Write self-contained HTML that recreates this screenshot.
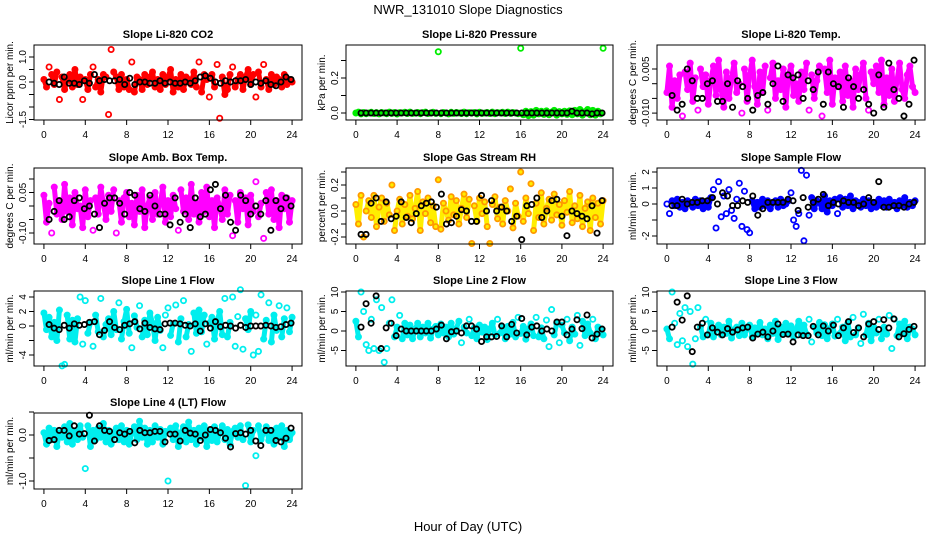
<!DOCTYPE html>
<html><head><meta charset="utf-8"><style>
body{margin:0;background:#fff;}
svg{display:block;font-family:"Liberation Sans",sans-serif;}
</style></head><body>
<svg id="chart" width="936" height="540" viewBox="0 0 936 540">
<text x="468" y="14" text-anchor="middle" font-size="13">NWR_131010  Slope Diagnostics</text>
<text x="468" y="531" text-anchor="middle" font-size="13">Hour of Day (UTC)</text>
</svg>
<script>
const hourTicks=[0,4,8,12,16,20,24];
const co2Vals=[.1,-.2,.6,.3,-.1,.4,-.7,.2,-.3,.1,.3,-.2,.5,-.1,.2,-.7,.1,-.3,.3,.6,-.2,.1,-.4,.3,.2,-1.3,1.3,.4,.2,-.3,.3,-.2,.1,-.3,.8,-.4,.2,.1,-.3,.3,-.1,.2,.4,-.2,.1,-.3,.3,-.1,.2,.5,-.4,.1,-.2,.3,-.3,.2,.1,-.1,.4,-.2,.8,-.4,.3,.1,-.6,.3,-.2,.7,-1.45,.2,-.5,-.3,.3,.6,-.2,.1,.3,-.3,.2,.5,-.1,.3,-.6,.4,-.2,.7,.1,-.3,.3,-.1,.2,.1,-.2,.3,-.1,.1,0];
const co2Black=[0,-.05,-.1,.2,-.05,-.05,-.1,.05,-.05,.3,.05,.1,.05,.05,.1,-.1,.15,-.1,0,0,-.05,-.05,.05,-.05,0,-.05,-.05,0,-.05,.05,.2,.25,.15,0,-.05,.05,0,.05,.05,.1,-.1,0,-.05,.05,-.1,-.15,0,.2,.1];
const presVals=[0,.005,-.005,.003,-.004,0,.004,-.003,.002,-.005,.003,0,-.004,.005,-.002,.003,-.006,.002,0,.004,-.003,.005,-.002,0,.003,-.004,.002,.005,-.003,0,.004,-.002,.35,-.004,.003,0,-.005,.004,-.002,.003,0,-.003,.005,-.004,.002,0,.003,-.005,.004,-.002,0,.003,-.003,.005,-.004,.002,0,.004,-.003,.005,-.002,.003,0,-.004,.37,-.01,.01,-.015,.008,-.012,.015,-.005,.01,-.008,.012,-.01,.005,.015,-.012,.008,-.005,.01,-.008,.012,-.01,.015,-.005,.02,-.012,.008,.02,-.01,.015,-.012,.01,-.005,.37];
const presBlack=[0,0,0,0,0,0,0,0,0,0,0,0,0,0,0,0,0,0,0,0,0,0,0,0,0,0,0,0,0,0,0,0,0,0,0,0,0,0,0,0,0,0,.01,0,0,0,-.005,0,0];
const tempVals=[-.003,.006,-.008,.001,-.005,.003,-.011,.004,-.002,.007,-.006,.002,-.009,.005,-.001,.003,-.007,.001,.006,-.004,.008,-.002,-.008,.004,-.005,.002,.007,-.003,0,-.01,.005,-.006,.003,.008,-.001,-.007,.004,-.003,.006,-.009,.002,.007,-.005,.001,-.002,.005,-.008,.003,.006,-.004,0,-.006,.004,-.002,.007,-.009,.003,-.005,.001,.006,-.011,.005,-.003,.008,-.007,.002,-.001,.004,-.006,.006,-.004,.001,-.008,.005,-.002,.003,.007,-.005,-.009,.004,0,.006,-.003,.008,-.007,.002,-.004,.005,-.006,.001,.007,-.002,-.005,.003,.006,-.001,-.003];
const tempBlack=[-.004,-.009,-.007,.005,.001,-.005,-.005,0,.001,-.006,-.006,0,-.008,.001,-.001,-.005,-.009,-.004,-.003,-.007,0,.006,-.006,.003,.002,.003,-.005,.001,-.002,.004,-.007,.004,0,-.001,-.008,.002,-.001,-.005,-.002,-.007,-.01,.003,-.008,.007,-.002,-.005,-.011,-.007,.008];
const ambVals=[.04,-.06,.01,-.1,.07,-.03,.02,-.05,.08,-.02,.03,-.07,.05,-.01,0,-.08,.06,-.04,.02,-.09,.03,-.03,.07,.01,-.05,.04,-.02,.06,-.1,.02,-.06,.03,.05,-.04,.01,-.07,.04,-.02,.06,-.08,0,.03,-.05,.05,-.03,.01,.07,-.06,.02,-.04,.04,-.01,-.09,.06,-.02,.03,-.05,.08,-.03,.01,-.06,.05,-.02,.07,-.04,.02,-.08,.03,0,-.05,.06,-.03,.04,-.11,.02,-.06,.05,-.01,.03,-.07,.04,-.02,.09,-.04,.01,-.12,.05,-.03,.06,-.05,.02,-.08,.04,-.01,.03,-.06,.02];
const ambBlack=[-.05,-.02,.02,-.05,-.04,.02,.03,-.01,0,-.03,-.08,.01,.03,.03,.01,-.03,.05,.04,-.01,-.02,.04,0,-.03,-.03,-.07,.03,-.06,-.03,-.08,.03,-.04,-.03,.06,.08,-.01,.04,-.06,-.09,.04,.02,-.03,0,-.03,.02,-.09,.02,-.01,.03,0];
const rhVals=[.05,-.1,.12,-.2,0,.08,-.05,.12,-.12,.03,.1,-.08,.06,-.03,.2,-.15,0,.09,-.1,.05,-.04,.12,-.06,.02,.15,-.15,.07,-.02,.1,-.09,.04,-.12,.24,-.14,.06,0,-.07,.11,-.03,.08,-.1,.02,.13,-.05,.09,-.25,.04,-.08,.1,-.02,.07,-.12,-.25,.05,.11,-.06,.03,-.1,.08,0,.17,-.13,.06,-.04,.3,-.08,.1,-.02,.21,-.15,.06,-.05,.14,-.1,.02,.09,-.07,.13,-.03,.05,-.11,.08,-.01,.15,-.09,.04,-.06,.12,-.12,.02,.07,-.15,.1,-.05,.06,-.1,.08];
const rhBlack=[-.18,-.18,.06,.1,-.08,.07,-.06,-.04,.07,-.05,-.09,-.02,.04,.06,.07,.03,.13,-.1,-.09,-.04,.01,0,-.08,-.08,.12,0,.08,0,.03,0,-.08,-.04,-.22,.04,.05,.1,-.05,0,.08,.09,-.04,-.19,0,-.02,-.04,-.06,.04,-.17,.08];
const flowVals=[0,-.6,.2,-.1,.3,-.2,.1,-.3,.2,0,-.2,.3,-.1,.2,-.3,.1,-.2,.4,.9,-1.5,1.4,-.8,.5,-.6,.9,-.4,-.9,.3,1.3,-1.4,.8,-1.6,-1.8,.2,-.3,.1,-.2,.3,-.1,.2,-.3,.1,.2,-.2,.3,-.1,0,.2,.7,-1,-1.4,-.6,2.1,-2.3,1.8,-.7,.4,-.3,.2,.1,-.3,.5,-.5,.2,-.1,.3,-.6,.4,-.2,.3,-.1,.5,-.3,.2,.1,-.2,.3,-.1,.2,-.3,.1,-.2,.3,-.1,.2,-.2,.3,-.1,.1,-.3,.2,-.1,.4,-.2,.1,-.1,.2];
const flowBlack=[-.1,-.1,.3,0,.1,.1,.2,.2,.4,0,.7,.5,-.1,-.1,.2,.1,.5,-.7,-.3,.1,.1,.1,.1,.3,.2,-.4,.4,-.2,.1,.3,.6,-.1,.1,0,.2,.1,.1,-.1,0,.4,.1,1.4,-.2,-.2,-.1,-.1,-.2,0,.1];
const line1Vals=[1.8,-.5,1.2,-1.5,.5,-2,2.2,-5.5,-5.3,1.5,-1.8,.8,-2.2,1,4,-2.5,3.5,-1,.5,-2.8,1.5,-.8,3.8,-1.5,.2,1,-1.2,2,-.5,3.2,-1.8,.6,2.3,-1,-3,1.4,-.2,2.8,-1.5,.8,-1.2,1.8,.4,-2,1.2,-.6,-3,1.5,2.5,-1.3,.3,2.9,-2.2,1,3.5,-1.5,.2,-3.5,1.8,-1,2.2,-.8,1.5,-2.5,.4,1.2,-1.8,.6,2,-1.2,3.8,-1.5,.5,4,-2.8,1.3,5,-3.2,1,-.5,2,-4,1.5,-3.5,4.3,-1.8,.8,3.2,-2.2,1.5,-.6,2.8,-1.5,1,2.5,-.8,1.2];
const line1Black=[.2,-.3,-.5,.1,-.3,.3,.1,.2,.5,.6,-1.2,-.6,.6,-.2,-.5,.1,.3,.6,-.4,.4,-.2,-.4,-.5,.3,.4,.4,.3,.1,0,.3,-.7,.3,-.3,.6,-.1,.1,0,-.3,.1,-.2,0,0,0,.1,0,-.2,-.1,.2,.4];
const line2Vals=[2.5,-1.5,10,5,-3.5,-5,3,-4.5,8,-5,6,-8,-4.5,2,8,-1.5,1,4,-2,2,-1,1.5,-2,.5,2,-1.5,1,-.5,2,-1.8,.5,1.2,-1,1.8,-.5,1,-1.5,2,-.8,.6,2.5,-3,1,-.5,3,-1.2,.8,-2,1.5,-.3,1,-2.2,.5,2,-1,3,-.5,1,-2,1.2,-.8,2.2,-1.5,3.5,-.6,1.2,-2.1,.5,1.8,-1.2,3.5,-1.5,.8,-2,2.8,-4,5.5,-1,2,-3,1.5,-.5,3,-2.5,1,-.8,4,-3.7,2.5,-1.2,1.8,-.5,3,-2,1,.5,-1];
const line2Black=[1,7,2,9,-4.5,.8,2,-1.2,.5,0,0,0,0,0,0,.5,1.5,-2,-.2,0,-.5,1.3,1.3,.5,-2.7,-1.5,-1.5,-1.4,1.3,-1.5,1.7,-.5,3.2,-1,1,1.3,0,.5,0,2.3,2.3,-1,.5,2.9,.6,4.1,-1.8,-.8,.5];
const line3Vals=[.5,-2,10,2,-3.5,4.5,-2.5,6,-4,5,-8.5,-2,6,1,-1.5,3,-1,2,-1.5,.5,1.5,-1,1,-.6,2.5,-1.8,.3,1,-1.2,2,-1,.6,1.5,-1.5,.8,-.4,2.2,-1,.5,-2,1.5,-.6,2.5,-2.2,1,-.5,2,-.8,1.3,-1.5,.4,2.5,-1,1.5,-.8,3,-2.8,1,-.5,2.2,-1.2,1.6,-2,.6,1.8,-1.3,3,-.6,1,-2.5,2,-1.5,3.5,-1,.8,-3.2,4.3,-1,2,-2.5,1,-.5,3,-2,1,-.8,4,-4.5,3,-1.2,1.8,-.5,2.5,-2,1,.5,-1];
const line3Black=[1,7.4,2.8,9,-5.3,1,2,-1,.8,-.3,-1,.6,-.3,.3,.8,1,-1.8,-.8,-.3,-1.5,0,1.8,-.9,-.8,-2.8,-1,-1.2,-1.2,1.2,-1,1.3,0,1.5,-1.2,.8,2.4,-.4,.8,-1.5,1.8,2.4,.4,2.9,.8,3.1,-1.5,-.7,.4,1.2];
const line4Vals=[.05,-.2,.15,-.1,.1,-.25,.05,-.05,.18,-.15,.25,-.2,.08,-.1,.2,-.05,-.73,.2,-.25,.1,-.1,.15,-.05,.25,-.15,.1,-.2,.05,.15,-.1,.2,-.15,.1,-.2,.05,.18,-.1,.3,-.05,.15,-.2,.1,-.15,.2,-.05,.12,-.2,.08,-1,.15,-.1,.2,-.25,.05,.18,-.15,.28,-.1,.1,-.2,.15,-.05,.2,-.25,.1,-.12,.18,-.15,.05,.2,-.1,.12,-.2,.08,.15,-.05,.2,-.1,-1.1,.22,-.15,.1,-.45,.2,-.1,.05,.18,-.12,.1,-.2,.15,-.05,.2,-.25,.1,-.1,.05];
const line4Black=[-.12,-.1,.1,.1,-.02,.2,.02,.03,.43,-.13,.2,.1,.08,-.1,.05,.02,.08,-.17,.1,.05,.05,.08,.08,-.15,.02,.02,-.13,.1,.04,.02,-.12,0,.12,.1,.05,-.07,-.26,.03,.05,.02,.1,-.13,-.23,.1,.1,-.12,-.15,-.07,.15];

const NS='http://www.w3.org/2000/svg';
const svg=document.getElementById('chart');
function mk(tag,attrs,parent){const e=document.createElementNS(NS,tag);for(const k in attrs)e.setAttribute(k,attrs[k]);(parent||svg).appendChild(e);return e;}
const cols=[{l:34,r:302},{l:346,r:613},{l:657,r:925}];
const rows=[{t:45,b:120},{t:168,b:244},{t:291,b:366},{t:413,b:489}];
const panels=[
{id:'co2',title:'Slope Li-820 CO2',yl:'Licor ppm per min.',c:0,r:0,vals:co2Vals,blk:co2Black,col:'#ff0000',core:.5,y0:0,p0:82,y1:1,p1:57,ticks:[-1.5,-1,-.5,0,.5,1],labs:['-1.5','','','0.0','','1.0']},
{id:'pressure',title:'Slope Li-820 Pressure',yl:'kPa per min.',c:1,r:0,vals:presVals,blk:presBlack,col:'#00ee00',core:.03,y0:0,p0:113,y1:.2,p1:78,ticks:[0,.1,.2,.3],labs:['0.0','','0.2','']},
{id:'temp',title:'Slope Li-820 Temp.',yl:'degrees C per min.',c:2,r:0,vals:tempVals,blk:tempBlack,col:'#ff00ff',core:.008,y0:0,p0:83.7,y1:.005,p1:69,ticks:[-.01,-.005,0,.005],labs:['-0.010','','','0.005']},
{id:'amb',title:'Slope Amb. Box Temp.',yl:'degrees C per min.',c:0,r:1,vals:ambVals,blk:ambBlack,col:'#ff00ff',core:.08,y0:0,p0:206,y1:.05,p1:192.5,ticks:[-.1,-.05,0,.05,.1],labs:['-0.10','','','0.05','']},
{id:'rh',title:'Slope Gas Stream RH',yl:'percent per min.',c:1,r:1,vals:rhVals,blk:rhBlack,col:'#ff9900',fill:'#ffee00',core:.16,y0:0,p0:211,y1:.2,p1:185,ticks:[-.2,-.1,0,.1,.2,.3],labs:['-0.2','','0.0','','0.2','']},
{id:'sample',title:'Slope Sample Flow',yl:'ml/min per min.',c:2,r:1,vals:flowVals,blk:flowBlack,col:'#0000ff',core:.5,y0:0,p0:204,y1:2,p1:172,ticks:[-2,-1,0,1,2],labs:['-2','','0','1','2']},
{id:'line1',title:'Slope Line 1 Flow',yl:'ml/min per min.',c:0,r:2,vals:line1Vals,blk:line1Black,col:'#00eeee',core:2.3,y0:0,p0:326,y1:-4,p1:355,ticks:[-4,-2,0,2,4],labs:['-4','','0','2','4']},
{id:'line2',title:'Slope Line 2 Flow',yl:'ml/min per min.',c:1,r:2,vals:line2Vals,blk:line2Black,col:'#00eeee',core:2.6,y0:0,p0:331,y1:10,p1:292,ticks:[-5,0,5,10],labs:['-5','0','5','10']},
{id:'line3',title:'Slope Line 3 Flow',yl:'ml/min per min.',c:2,r:2,vals:line3Vals,blk:line3Black,col:'#00eeee',core:2.6,y0:0,p0:331,y1:10,p1:292,ticks:[-5,0,5,10],labs:['-5','0','5','10']},
{id:'line4',title:'Slope Line 4 (LT) Flow',yl:'ml/min per min.',c:0,r:3,vals:line4Vals,blk:line4Black,col:'#00eeee',core:.3,y0:0,p0:435,y1:-1,p1:481,ticks:[-1,-.5,0,.5],labs:['-1.0','','0.0','']}
];
panels.forEach(p=>{
  const C=cols[p.c],R=rows[p.r];
  const g=mk('g',{});
  
  
  const w=C.r-C.l;
  const xs=h=>C.l+w*(h+0.96)/25.92;
  const ys=v=>p.p0+(v-p.y0)*(p.p1-p.p0)/(p.y1-p.y0);
  const t=mk('text',{x:(C.l+C.r)/2,y:R.t-7,'text-anchor':'middle','font-size':11,'font-weight':'bold'},g);
  t.textContent=p.title;
  
  
  const yt=mk('text',{transform:`translate(${C.l-21},${(R.t+R.b)/2}) rotate(-90)`,'text-anchor':'middle','font-size':10},g);
  yt.textContent=p.yl;
  
  
  const n=p.vals.length;
  // dense band: connect consecutive core points (many overlapping samples)
  for(let i=1;i<n;i++){
    const a=p.vals[i-1],b=p.vals[i];
    if(Math.abs(a)<=p.core&&Math.abs(b)<=p.core){
      const ln=mk('line',{x1:xs((i-1)*24/(n-1)),y1:ys(a),x2:xs(i*24/(n-1)),y2:ys(b),stroke:p.fill||p.col,'stroke-width':5,'stroke-linecap':'round'},g);
      
      
    }
  }
  p.vals.forEach((v,i)=>{
    const c=mk('circle',{cx:xs(i*24/(n-1)),cy:ys(v),r:2.6,fill:p.fill||'none',stroke:p.col,'stroke-width':1.8},g);
    
    
  });
  const m=p.blk.length;
  p.blk.forEach((v,i)=>{
    const c=mk('circle',{cx:xs(0.5+i*23.4/(m-1)),cy:ys(v),r:2.6,fill:'none',stroke:'#000','stroke-width':1.8},g);
    
    
  });
  const box=mk('rect',{x:C.l,y:R.t,width:w,height:R.b-R.t,fill:'none',stroke:'#000','stroke-width':1},g);
  
  
  hourTicks.forEach(h=>{
    const x=xs(h);
    mk('line',{x1:x,x2:x,y1:R.b,y2:R.b+5,stroke:'#000'},g);
    const l=mk('text',{x:x,y:R.b+18,'text-anchor':'middle','font-size':10},g);
    l.textContent=h;
    
    
  });
  p.ticks.forEach((tv,i)=>{
    const y=ys(tv);
    mk('line',{x1:C.l-5,x2:C.l,y1:y,y2:y,stroke:'#000'},g);
    if(p.labs[i]){
      const l=mk('text',{transform:`translate(${C.l-8},${y}) rotate(-90)`,'text-anchor':'middle','font-size':10},g);
      l.textContent=p.labs[i];
      
      
    }
  });
});
</script>
</body></html>
